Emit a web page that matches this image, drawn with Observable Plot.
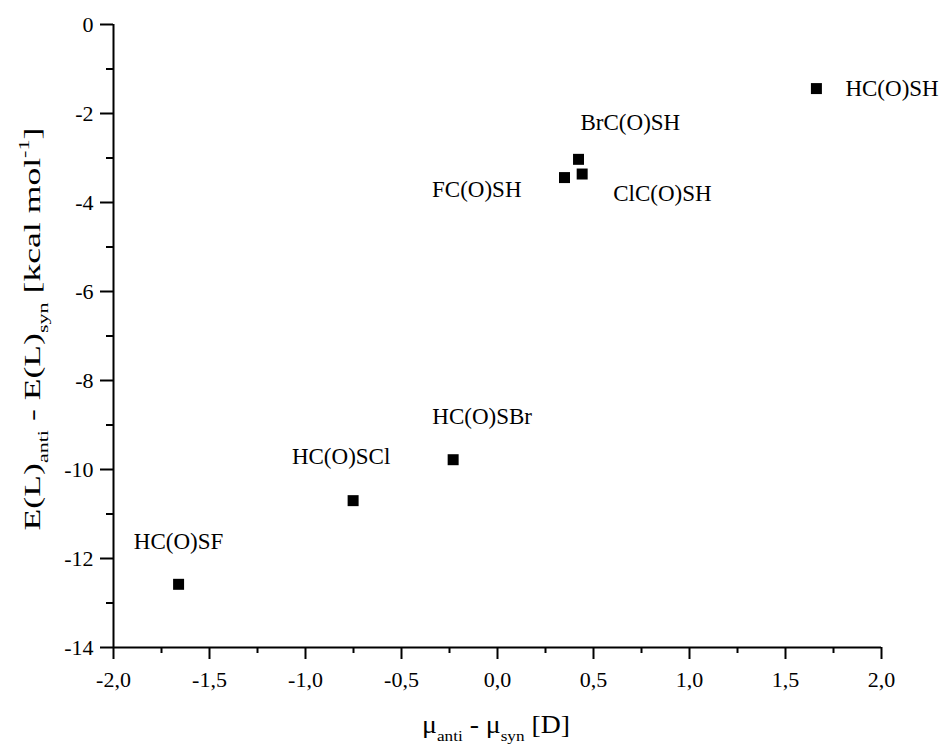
<!DOCTYPE html>
<html><head><meta charset="utf-8">
<script src="https://cdn.jsdelivr.net/npm/d3@7"></script>
<script src="https://cdn.jsdelivr.net/npm/@observablehq/plot@0.6"></script>
<style>
html,body{margin:0;padding:0;background:#fff}
svg{display:block}
#chart svg, #chart svg text { font-family: "Liberation Serif", "Times New Roman", Times, serif !important; }
</style>
</head><body><div id="chart"></div>
<script>
// ---- data ----
const compounds = ["HC(O)SF", "HC(O)SCl", "HC(O)SBr", "FC(O)SH", "BrC(O)SH", "ClC(O)SH", "HC(O)SH"];
const dMu = [-1.661, -0.752, -0.231, 0.349, 0.422, 0.441, 1.661];   // μanti - μsyn [D]
const dE  = [-12.58, -10.70, -9.78, -3.44, -3.03, -3.36, -1.44];     // E(L)anti - E(L)syn [kcal/mol]
const xMajorTicks = [-2, -1.5, -1, -0.5, 0, 0.5, 1, 1.5, 2];
const xMinorTicks = [-1.75, -1.25, -0.75, -0.25, 0.25, 0.75, 1.25, 1.75];
const yMajorTicks = [0, -2, -4, -6, -8, -10, -12, -14];
const yMinorTicks = [-1, -3, -5, -7, -9, -11, -13];

const data = compounds.map((name, i) => ({name, x: dMu[i], y: dE[i]}));

// label placement relative to each point (layout only)
const labelPlacement = {
  "HC(O)SF":  {dx: 0,   dy: -35, anchor: "middle"},
  "HC(O)SCl": {dx: -12, dy: -37, anchor: "middle"},
  "HC(O)SBr": {dx: 29,  dy: -36, anchor: "middle"},
  "FC(O)SH":  {dx: -43, dy: 19,  anchor: "end"},
  "BrC(O)SH": {dx: 2,   dy: -29, anchor: "start"},
  "ClC(O)SH": {dx: 31,  dy: 27,  anchor: "start"},
  "HC(O)SH":  {dx: 29,  dy: 7,   anchor: "start"}
};

const FONT = "\"Liberation Serif\", \"Times New Roman\", Times, serif";
const fmtX = d => d.toFixed(1).replace(".", ",");
const fmtY = d => String(d);

const labelMarks = data.map(d => {
  const p = labelPlacement[d.name];
  return Plot.text([d], {x: "x", y: "y", text: "name", dx: p.dx, dy: p.dy,
    textAnchor: p.anchor, lineAnchor: "bottom", fontSize: 23, fill: "black"});
});

const chart = Plot.plot({
  width: 939,
  height: 744,
  marginLeft: 113,
  marginRight: 58,
  marginTop: 24,
  marginBottom: 97,
  style: {fontFamily: FONT, fontSize: "22px", color: "black", background: "white"},
  x: {domain: [-2, 2]},
  y: {domain: [-14, 0]},
  marks: [
    Plot.axisX(xMinorTicks, {tickSize: 6, tickFormat: () => "", strokeWidth: 2, label: null}),
    Plot.axisX(xMajorTicks, {tickSize: 12, tickPadding: 12, tickFormat: fmtX, strokeWidth: 2, fontSize: 22, label: null}),
    Plot.axisY(yMinorTicks, {tickSize: 7, tickFormat: () => "", strokeWidth: 2, label: null}),
    Plot.axisY(yMajorTicks, {tickSize: 13, tickPadding: 7, tickFormat: fmtY, strokeWidth: 2, fontSize: 22, label: null}),
    Plot.ruleY([-14], {stroke: "black", strokeWidth: 2}),
    Plot.ruleX([-2], {stroke: "black", strokeWidth: 2}),
    Plot.dot(data, {x: "x", y: "y", symbol: "square", r: 6.2, fill: "black", stroke: "none"}),
    ...labelMarks
  ]
});

document.getElementById("chart").appendChild(chart);
const svg = d3.select(chart);
svg.attr("font-family", FONT);

// ---- axis titles with subscripts / superscripts ----
function addTitle(parts, fontSize, targetLength, cx, cy, rotate) {
  const g = svg.append("g");
  const t = g.append("text")
    .attr("text-anchor", "middle")
    .attr("font-size", fontSize)
    .attr("fill", "black");
  let shift = 0;
  parts.forEach(p => {
    const target = p.sub ? 8 : p.sup ? -11 : 0;
    const ts = t.append("tspan").text(p.t).attr("dy", target - shift);
    if (p.sub || p.sup) ts.attr("font-size", fontSize * 0.62);
    shift = target;
  });
  const w = t.node().getComputedTextLength();
  const sx = targetLength / w;
  g.attr("transform", `translate(${cx},${cy})` + (rotate ? " rotate(-90)" : "") + ` scale(${sx},1)`);
}

addTitle([
  {t: "μ"}, {t: "anti", sub: true}, {t: " - μ"}, {t: "syn", sub: true}, {t: " [D]"}
], 25, 148, 496, 733, false);

addTitle([
  {t: "E(L)"}, {t: "anti", sub: true}, {t: " - E(L)"}, {t: "syn", sub: true},
  {t: " [kcal mol"}, {t: "-1", sup: true}, {t: "]"}
], 24, 403, 40, 329, true);
</script>
</body></html>
